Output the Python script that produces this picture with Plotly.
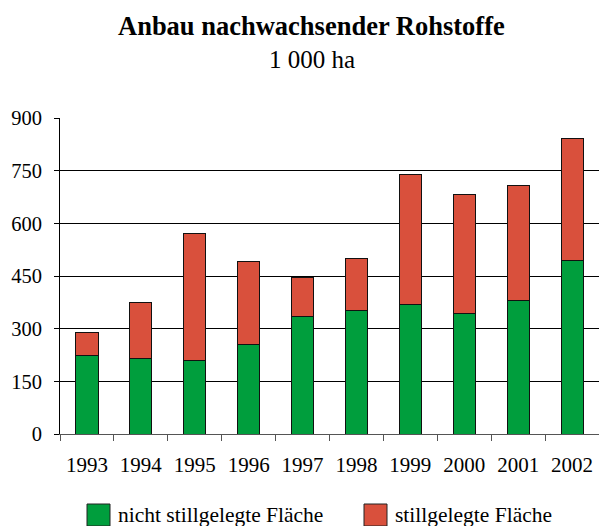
import plotly.graph_objects as go

years = ["1993", "1994", "1995", "1996", "1997", "1998", "1999", "2000", "2001", "2002"]
nicht_stillgelegt = [225, 215, 210, 255, 335, 352, 370, 342, 380, 493]
stillgelegt = [65, 160, 360, 235, 110, 148, 368, 340, 329, 350]
y_ticks = [0, 150, 300, 450, 600, 750, 900]

title = "Anbau nachwachsender Rohstoffe"
subtitle = "1 000 ha"
series_names = ["nicht stillgelegte Fläche", "stillgelegte Fläche"]
colors = ["#009E3D", "#D9503C"]

FONT = "Liberation Serif, Times New Roman, serif"

W, H = 599, 526
L, R, T, B = 60, 0, 118, 92
plot_h = H - T - B
plot_w = W - L - R


def py(pix):
    return 1 + (T - pix) / plot_h


def px(pix):
    return (pix - L) / plot_w


fig = go.Figure()
for name, vals, col in zip(series_names, [nicht_stillgelegt, stillgelegt], colors):
    fig.add_trace(go.Bar(
        x=years, y=vals, name=name, showlegend=False,
        marker=dict(color=col, line=dict(color="#111111", width=1)),
    ))

# custom legend (large square swatches like the reference)
legend_sq_x = [87, 364]
shapes = []
annotations = [
    dict(text="<b>" + title + "</b>", x=px(311), y=py(26), xref="paper", yref="paper",
         yanchor="middle", showarrow=False,
         font=dict(family=FONT, size=26.5, color="black")),
    dict(text=subtitle, x=px(312), y=py(60), xref="paper", yref="paper",
         yanchor="middle", showarrow=False,
         font=dict(family=FONT, size=25, color="black")),
]
for name, col, sx in zip(series_names, colors, legend_sq_x):
    shapes.append(dict(type="rect", xref="paper", yref="paper",
                       x0=px(sx), x1=px(sx + 23), y0=py(526), y1=py(504),
                       fillcolor=col, line=dict(color="#222222", width=1)))
    annotations.append(dict(text=name, x=px(sx + 29), y=py(515), xref="paper", yref="paper",
                            xanchor="left", yanchor="middle", showarrow=False,
                            font=dict(family=FONT, size=21.5, color="black")))

fig.update_layout(
    width=W, height=H,
    barmode="stack",
    bargap=0.59,
    plot_bgcolor="white", paper_bgcolor="white",
    margin=dict(l=L, r=R, t=T, b=B, autoexpand=False),
    font=dict(family=FONT, size=20, color="black"),
    showlegend=False,
    shapes=shapes,
    annotations=annotations,
)

fig.update_yaxes(
    range=[0, 900], tickvals=y_ticks, showgrid=True, gridcolor="black", gridwidth=1,
    showline=True, linecolor="black", linewidth=1, ticks="outside", ticklen=5,
    tickcolor="black", zeroline=False, ticklabelstandoff=8, automargin=False,
    tickfont=dict(size=20.5),
)
fig.update_xaxes(
    showline=True, linecolor="#555555", linewidth=1, ticks="outside", ticklen=6,
    tickcolor="#555555", tickson="boundaries", ticklabelstandoff=12,
    range=[-0.5, 9.5], automargin=False, tickfont=dict(size=21),
)

fig.write_html(
    "out.html",
    config={"displayModeBar": False},
    post_script="document.body.style.margin='0';document.body.style.overflow='hidden';",
)
